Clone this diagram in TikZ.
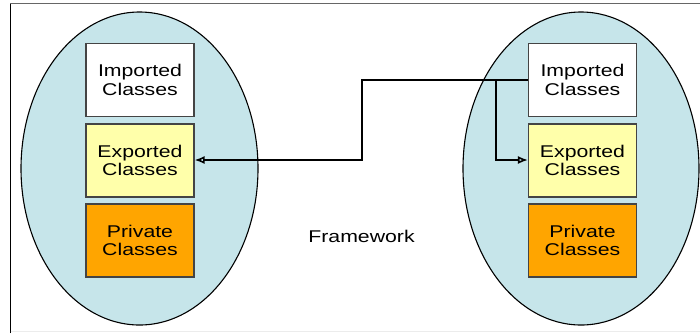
\documentclass[tikz,border=0pt]{standalone}
\usepackage{fontspec}
\setmainfont{Liberation Sans}
\newfontfamily\widesans[FakeStretch=1.25]{Liberation Sans}
\usetikzlibrary{arrows.meta}
\definecolor{bubble}{HTML}{C6E5EA}
\definecolor{expfill}{HTML}{FFFFAA}
\definecolor{privfill}{HTML}{FFA500}
\definecolor{boxline}{HTML}{444444}
\tikzset{
  classbox/.style={draw=boxline, line width=1.2pt, minimum width=108pt,
    minimum height=73pt, inner sep=0pt, align=center,
    font=\widesans\fontsize{17}{18.5}\selectfont},
  imported/.style={classbox, fill=white},
  exported/.style={classbox, fill=expfill},
  private/.style={classbox, fill=privfill},
  link/.style={draw=black, line width=2.6pt, line join=miter},
  tip/.style={-{Latex[open, length=10pt, width=8pt, line width=1.6pt]}}
}
\begin{document}
\begin{tikzpicture}[x=1pt, y=-1pt]
  \useasboundingbox (0,0) rectangle (700,333);
  % frame
  \draw[gray!80!black, line width=1.6pt] (10.5,333) coordinate (fbl) -- (10.5,3.5) coordinate (ftl) -- (700,3.5) coordinate (ftr);
  \draw[black, line width=1.6pt] (fbl) -- (ftl);
  \draw[gray!15, line width=0.8pt] (10.5,331) -- (700,331);

  % two packages
  \fill[bubble] (139.5,168.5) ellipse [x radius=118.5pt, y radius=156.5pt];
  \draw[black, line width=1.1pt] (139.5,168.5) ellipse [x radius=118.5pt, y radius=156.5pt];
  \fill[bubble] (581,168.5) ellipse [x radius=118pt, y radius=156.5pt];
  \draw[black, line width=1.1pt] (581,168.5) ellipse [x radius=118pt, y radius=156.5pt];

  % left package classes
  \node[imported] (limp) at (140,80) {Imported\\Classes};
  \node[exported] (lexp) at (140,160.5) {Exported\\Classes};
  \node[private]  (lpri) at (140,240.5) {Private\\Classes};

  % right package classes
  \node[imported] (rimp) at (582.5,80) {Imported\\Classes};
  \node[exported] (rexp) at (582.5,160.5) {Exported\\Classes};
  \node[private]  (rpri) at (582.5,240.5) {Private\\Classes};

  \node[font=\widesans\fontsize{17}{18.5}\selectfont] (fw) at (361.5,236) {Framework};

  % connectors
  \coordinate (bend1) at (362,80);
  \coordinate (bend2) at (362,160);
  \coordinate (split) at (496,80);
  \coordinate (drop) at (496,160);
  \draw[link, tip] (rimp.west |- 0,80) -- (bend1) -- (bend2) -- (lexp.east |- 0,160);
  \draw[link, tip] (split) -- (drop) -- (rexp.west |- 0,160);
\end{tikzpicture}
\end{document}
